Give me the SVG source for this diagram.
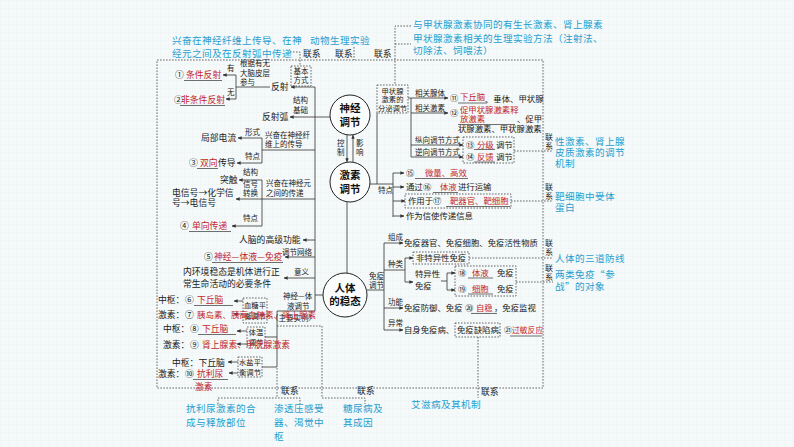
<svg xmlns="http://www.w3.org/2000/svg" width="794" height="447" viewBox="0 0 794 447">
<defs>
<style>
text{font-family:"Noto Sans CJK SC","Noto Sans",sans-serif}
.t{font-size:8.8px;fill:#1a1a1a}
.k{font-size:8.4px;fill:#1a1a1a}
.s{font-size:7.5px;fill:#1a1a1a}
.r{font-size:8.8px;fill:#c3272b}
.rk{font-size:8.4px;fill:#c3272b}
.b{font-size:9.6px;letter-spacing:0.4px;fill:#1f9fd0}
.c{font-size:10.5px;font-weight:bold;fill:#111;text-anchor:middle}
.v{font-size:8px;fill:#1a1a1a}
.m{text-anchor:middle}
.ln{fill:none;stroke:#333;stroke-width:0.8}
.ar{fill:none;stroke:#333;stroke-width:0.8;marker-end:url(#ah)}
.ds{fill:none;stroke:#444;stroke-width:0.8;stroke-dasharray:1.6 1.4}
.ul{fill:none;stroke:#333;stroke-width:0.7}
.nd{fill:#fbfdfd;stroke:#222;stroke-width:1}
</style>
<marker id="ah" viewBox="0 0 6 6" refX="5.5" refY="3" markerWidth="4" markerHeight="4" orient="auto" markerUnits="userSpaceOnUse"><path d="M0,0.5 L6,3 L0,5.5 z" fill="#333"/></marker>
<pattern id="grid" width="8" height="8" patternUnits="userSpaceOnUse"><path d="M8 0H0V8" fill="none" stroke="#e3ecec" stroke-width="0.5"/></pattern>
</defs>
<rect width="794" height="447" fill="#f5f9f9"/>
<rect width="794" height="447" fill="url(#grid)"/>

<g id="connectors">
<rect class="ds" x="157" y="60" width="386" height="328"/>
<path class="ds" d="M290,52H300V66"/>
<path class="ds" d="M354,47V60"/>
<path class="ds" d="M411,26H395V85M395,44H411"/>
<path class="ds" d="M514,151H553"/>
<path class="ds" d="M511,201H553"/>
<path class="ds" d="M469,258H553"/>
<path class="ds" d="M516,282H553"/>
<path class="ds" d="M478,337V398"/>
<path class="ds" d="M277,326H322V398H365V404"/>
<path class="ds" d="M277,368V398M218,404V398H300V404"/>
<path class="ln" d="M315,87V311"/>
<path class="ln" d="M315,117H330"/>
<path class="ar" d="M315,87H291"/>
<path class="ln" d="M270,87H236M236,75V99"/>
<path class="ar" d="M236,75H223"/>
<path class="ar" d="M236,99H226"/>
<path class="ar" d="M315,117H290"/>
<path class="ln" d="M315,150H262M262,138V163"/>
<path class="ar" d="M262,138H238"/>
<path class="ar" d="M262,163H237"/>
<path class="ln" d="M262,180V226"/>
<path class="ar" d="M315,199H236"/>
<path class="ar" d="M262,180H239"/>
<path class="ar" d="M262,226H232"/>
<path class="ar" d="M315,240H303"/>
<path class="ar" d="M315,257H285"/>
<path class="ar" d="M315,278H284"/>
<path class="ln" d="M315,295H323"/>
<path class="ln" d="M315,311H277V367"/>
<path class="ln" d="M265,337H277M262,367H277"/>
<path class="ar" d="M243,301H234"/>
<path class="ar" d="M243,314H234"/>
<path class="ar" d="M247,331H237"/>
<path class="ar" d="M247,344H237"/>
<path class="ar" d="M238,362H228"/>
<path class="ar" d="M238,373H229"/>
<path class="ar" d="M347,135V162"/>
<path class="ar" d="M353,162V135"/>
<path class="ln" d="M347,202V273"/>
<path class="ln" d="M370,184H393M377,184V113M393,173V217"/>
<path class="ar" d="M393,173H404"/>
<path class="ar" d="M393,187H404"/>
<path class="ar" d="M393,201H405"/>
<path class="ar" d="M393,216H404"/>
<path class="ln" d="M411,98V157"/>
<path class="ar" d="M408,98H448"/>
<path class="ar" d="M411,113H448"/>
<path class="ar" d="M411,145H463"/>
<path class="ar" d="M411,157H463"/>
<path class="ln" d="M367,290H384M384,243V330"/>
<path class="ar" d="M384,243H403"/>
<path class="ln" d="M384,270H405M405,258V282"/>
<path class="ar" d="M405,258H413"/>
<path class="ar" d="M405,282H413"/>
<path class="ln" d="M441,281H447M447,273V290"/>
<path class="ar" d="M447,273H455"/>
<path class="ar" d="M447,290H455"/>
<path class="ar" d="M384,308H403"/>
<path class="ar" d="M384,330H403"/>
</g>

<g id="notes-top">
<text class="b" x="172" y="44">兴奋在神经纤维上传导、在神</text>
<text class="b" x="172" y="57">经元之间及在反射弧中传递</text>
<text class="b" x="310" y="43.5">动物生理实验</text>
<text class="b" x="413" y="28">与甲状腺激素协同的有生长激素、肾上腺素</text>
<text class="b" x="413" y="42">甲状腺激素相关的生理实验方法（注射法、</text>
<text class="b" x="413" y="54">切除法、饲喂法）</text>
<text class="t" x="303" y="57">联系</text>
<text class="t" x="335" y="57">联系</text>
<text class="t" x="374" y="57">联系</text>
</g>

<g id="node-neural">
<circle class="nd" cx="350" cy="115" r="20"/>
<text class="c" x="350" y="112">神经</text>
<text class="c" x="350" y="125.5">调节</text>
</g>
<g id="node-hormone">
<circle class="nd" cx="350" cy="182" r="20"/>
<text class="c" x="350" y="179">激素</text>
<text class="c" x="350" y="192.5">调节</text>
<text class="s" x="337" y="146">控</text>
<text class="s" x="337" y="155">制</text>
<text class="s" x="356" y="146">影</text>
<text class="s" x="356" y="155">响</text>
</g>
<g id="node-homeostasis">
<circle class="nd" cx="345" cy="295" r="22"/>
<text class="c" x="345" y="291.5">人体</text>
<text class="c" x="345" y="305">的稳态</text>
</g>

<g id="reflex">
<text class="t" x="175" y="78">①</text>
<text class="r" x="186" y="78">条件反射</text>
<path class="ul" d="M184,80.5H222"/>
<text class="t" x="174" y="103">②</text>
<text class="r" x="181" y="103">非条件反射</text>
<path class="ul" d="M180,105.5H225"/>
<text class="s" x="227" y="71">有</text>
<text class="s" x="227" y="95">无</text>
<text class="s" x="240" y="66">根据有无</text>
<text class="s" x="240" y="76">大脑皮层</text>
<text class="s" x="240" y="85">参与</text>
<text class="t" x="271" y="90">反射</text>
<rect class="ds" x="291" y="66" width="20" height="20"/>
<text class="s m" x="301" y="73.5">基本</text>
<text class="s m" x="301" y="83">方式</text>
<text class="s" x="293" y="103">结构</text>
<text class="s" x="293" y="113">基础</text>
<text class="t" x="262" y="120">反射弧</text>
</g>

<g id="conduction">
<text class="t" x="201" y="141">局部电流</text>
<text class="s" x="245" y="134.5">形式</text>
<text class="s" x="245" y="159">特点</text>
<text class="s" x="265" y="137.5">兴奋在神经纤</text>
<text class="s" x="265" y="147">维上的传导</text>
<text class="t" x="189" y="166">③</text>
<text class="r" x="200" y="166">双向</text>
<text class="t" x="218" y="166">传导</text>
<path class="ul" d="M197,168.5H218"/>
</g>

<g id="transmission">
<text class="t" x="220" y="183">突触</text>
<text class="s" x="243" y="175">结构</text>
<text class="s" x="243" y="187">信号</text>
<text class="s" x="243" y="196">转换</text>
<text class="t" x="172" y="196">电信号→化学信</text>
<text class="t" x="172" y="206">号→电信号</text>
<text class="s" x="243" y="221">特点</text>
<text class="t" x="180" y="229">④</text>
<text class="r" x="192" y="229">单向传递</text>
<path class="ul" d="M189,231.5H231"/>
<text class="s" x="266" y="186">兴奋在神经元</text>
<text class="s" x="266" y="196">之间的传递</text>
<text class="t" x="239" y="243">人脑的高级功能</text>
</g>

<g id="thyroid">
<rect class="ds" x="377" y="85" width="31" height="28"/>
<text class="s m" x="392.5" y="93.5" style="font-size:7.3px">甲状腺</text>
<text class="s m" x="392.5" y="102" style="font-size:7.3px">激素的</text>
<text class="s m" x="392.5" y="110.5" style="font-size:7.3px">分泌调节</text>
<text class="s" x="415" y="95.6">相关腺体</text>
<text class="k" x="450" y="101">⑪</text>
<text class="rk" x="460" y="100">下丘脑</text>
<path class="ul" d="M458,103H487"/>
<text class="k" x="485" y="102">、垂体、甲状腺</text>
<text class="s" x="415" y="110.6">相关激素</text>
<text class="k" x="450" y="116">⑫</text>
<text class="rk" x="460" y="113">促甲状腺激素释</text>
<text class="rk" x="460" y="122">放激素</text>
<path class="ul" d="M458,124.5H515"/>
<text class="k" x="517" y="122">、促甲</text>
<text class="k" x="458" y="132">状腺激素、甲状腺激素</text>
<text class="s" x="415" y="142.6">纵向调节方式</text>
<text class="s" x="415" y="154.6">逆向调节方式</text>
<rect class="ds" x="463" y="137" width="51" height="26"/>
<text class="k" x="466" y="147.5">⑬</text>
<text class="rk" x="477" y="147.5">分级</text>
<text class="k" x="496" y="147.5">调节</text>
<path class="ul" d="M474,149.5H495"/>
<text class="k" x="466" y="160">⑭</text>
<text class="rk" x="477" y="160">反馈</text>
<text class="k" x="496" y="160">调节</text>
<path class="ul" d="M474,162H495"/>
<text class="v" x="545" y="139.5">联</text>
<text class="v" x="545" y="148.5">系</text>
<text class="b" x="555" y="145">性激素、肾上腺</text>
<text class="b" x="555" y="156">皮质激素的调节</text>
<text class="b" x="555" y="167">机制</text>
</g>

<g id="hormone-traits">
<text class="s" x="378" y="193">特点</text>
<text class="k" x="406" y="176">⑮</text>
<text class="rk" x="425" y="176">微量、高效</text>
<path class="ul" d="M415,178.5H468"/>
<text class="k" x="406" y="190">通过</text>
<text class="k" x="423" y="190">⑯</text>
<text class="rk" x="440" y="190">体液</text>
<path class="ul" d="M433,192.5H458"/>
<text class="k" x="458" y="190">进行运输</text>
<rect class="ds" x="405" y="194" width="106" height="14"/>
<text class="k" x="408" y="204">作用于⑰</text>
<text class="rk" x="450" y="204">靶器官、靶细胞</text>
<path class="ul" d="M446,206.5H510"/>
<text class="k" x="406" y="219">作为信使传递信息</text>
<text class="v" x="545" y="190">联</text>
<text class="v" x="545" y="199">系</text>
<text class="b" x="555" y="200">靶细胞中受体</text>
<text class="b" x="555" y="211">蛋白</text>
</g>

<g id="immune">
<text class="s" x="369" y="279">免疫</text>
<text class="s" x="369" y="288">调节</text>
<text class="s" x="388" y="240">组成</text>
<text class="k" x="404" y="246">免疫器官、免疫细胞、免疫活性物质</text>
<text class="s" x="388" y="267">种类</text>
<rect class="ds" x="413" y="252" width="56" height="12"/>
<text class="k" x="416" y="261">非特异性免疫</text>
<text class="k" x="415" y="277">特异性</text>
<text class="k" x="415" y="289">免疫</text>
<rect class="ds" x="455" y="266" width="61" height="30"/>
<text class="k" x="458" y="276">⑱</text>
<text class="rk" x="472" y="276">体液</text>
<text class="k" x="497" y="276">免疫</text>
<path class="ul" d="M468,278H493"/>
<text class="k" x="458" y="292">⑲</text>
<text class="rk" x="472" y="292">细胞</text>
<text class="k" x="497" y="292">免疫</text>
<path class="ul" d="M468,294H493"/>
<text class="s" x="388" y="305">功能</text>
<text class="k" x="404" y="311">免疫防御、免疫</text>
<text class="k" x="465" y="311">⑳</text>
<text class="rk" x="476" y="311">自稳</text>
<path class="ul" d="M471,313.5H497"/>
<text class="k" x="494" y="311">，免疫监视</text>
<text class="s" x="388" y="326">异常</text>
<text class="k" x="404" y="333">自身免疫病、</text>
<rect class="ds" x="455" y="323" width="45" height="14"/>
<text class="k" x="457" y="333">免疫缺陷病</text>
<text class="k" x="498" y="333">、</text>
<text class="k" x="504" y="333">㉑</text>
<text class="rk" x="512" y="333" style="font-size:7.8px">过敏反应</text>
<path class="ul" d="M510,336H542"/>
<text class="v" x="545" y="246">联</text>
<text class="v" x="545" y="255">系</text>
<text class="b" x="555" y="262">人体的三道防线</text>
<text class="v" x="545" y="271">联</text>
<text class="v" x="545" y="280">系</text>
<text class="b" x="555" y="278">两类免疫“参</text>
<text class="b" x="555" y="290">战”的对象</text>
<text class="t" x="481" y="395">联系</text>
<text class="b" x="411" y="408">艾滋病及其机制</text>
</g>

<g id="homeostasis-left">
<text class="s" x="282" y="254.6">调节网络</text>
<text class="t" x="204" y="260">⑤</text>
<text class="r" x="214" y="260">神经—体液—免疫</text>
<path class="ul" d="M212,262.5H283"/>
<text class="s" x="294" y="274.6">意义</text>
<text class="t" x="183" y="275">内环境稳态是机体进行正</text>
<text class="t" x="183" y="287">常生命活动的必要条件</text>
<text class="s" x="283" y="299">神经—体</text>
<text class="s" x="287" y="309">液调节</text>
<text class="s" x="271" y="321">（主要实例）</text>
</g>

<g id="examples">
<rect class="ds" x="243" y="298" width="24" height="25"/>
<text class="s m" x="255" y="308" style="font-size:7.3px">血糖平</text>
<text class="s m" x="255" y="318.5" style="font-size:7.3px">衡调节</text>
<rect class="ds" x="247" y="327" width="18" height="21"/>
<text class="s m" x="256" y="335" style="font-size:7.3px">体温</text>
<text class="s m" x="256" y="344.5" style="font-size:7.3px">调节</text>
<rect class="ds" x="238" y="357" width="24" height="20"/>
<text class="s m" x="250" y="365" style="font-size:7.3px">水盐平</text>
<text class="s m" x="250" y="374.5" style="font-size:7.3px">衡调节</text>
<text class="t" x="158" y="303">中枢：</text>
<text class="t" x="185" y="303">⑥</text>
<text class="r" x="197" y="303">下丘脑</text>
<path class="ul" d="M194,305.5H233"/>
<text class="t" x="158" y="318">激素：</text>
<text class="t" x="185" y="318">⑦</text>
<text class="r" x="197" y="318" style="font-size:8.5px">胰岛素、胰高血糖素、肾上腺素</text>
<text class="t" x="163" y="332">中枢：</text>
<text class="t" x="190" y="332">⑧</text>
<text class="r" x="202" y="332">下丘脑</text>
<path class="ul" d="M198,334.5H236"/>
<text class="t" x="163" y="348">激素：</text>
<text class="t" x="190" y="348">⑨</text>
<text class="r" x="202" y="348">肾上腺素、甲状腺激素</text>
<text class="t" x="172" y="366">中枢：下丘脑</text>
<text class="t" x="158" y="377">激素：</text>
<text class="t" x="185" y="377">⑩</text>
<text class="r" x="197" y="377">抗利尿</text>
<path class="ul" d="M193,379.5H228"/>
<text class="r" x="195" y="390">激素</text>
</g>

<g id="notes-bottom">
<text class="t" x="281" y="394">联系</text>
<text class="t" x="357" y="394">联系</text>
<text class="b" x="186" y="412">抗利尿激素的合</text>
<text class="b" x="186" y="426">成与释放部位</text>
<text class="b" x="274" y="412">渗透压感受</text>
<text class="b" x="274" y="426">器、渴觉中</text>
<text class="b" x="274" y="440">枢</text>
<text class="b" x="343" y="412">糖尿病及</text>
<text class="b" x="343" y="426">其成因</text>
</g>
</svg>
